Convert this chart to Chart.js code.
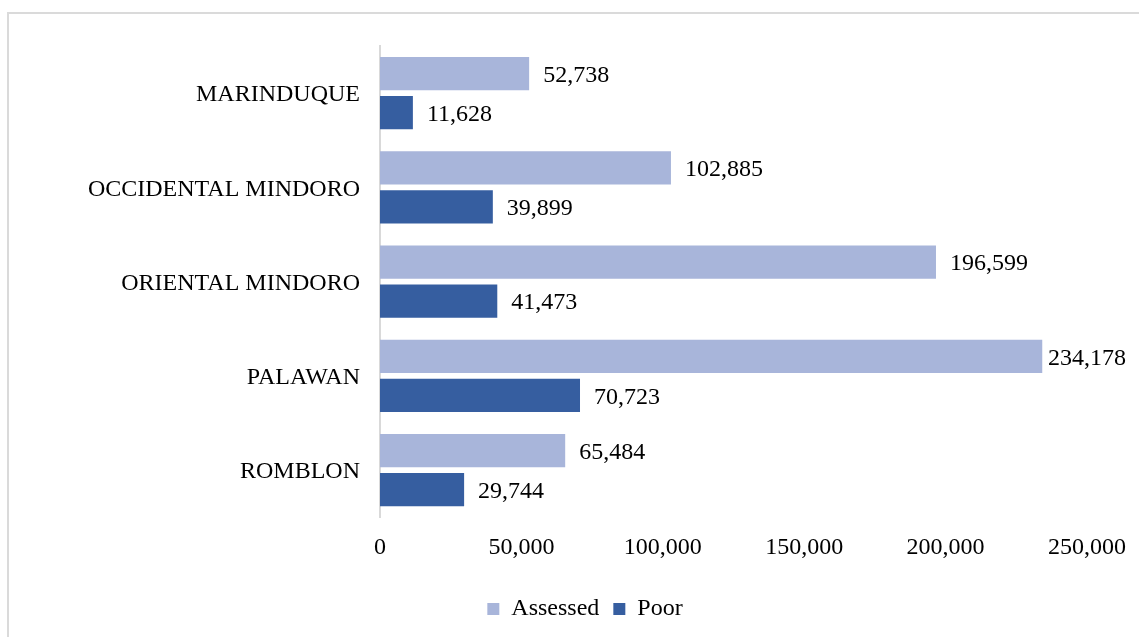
<!DOCTYPE html>
<html>
<head>
<meta charset="utf-8">
<script src="https://cdn.jsdelivr.net/npm/chart.js@4"></script>
<style>
    html, body { margin: 0; padding: 0; background: #fff; overflow: hidden; }
    #frame {
        position: absolute; left: 7px; top: 12px;
        width: 1140px; height: 640px;
        border: 2px solid #dadada;
    }
    #wrap { position: absolute; left: 0; top: 0; width: 1130px; height: 623px; }
</style>
</head>
<body>
<div id="frame">
    <div id="wrap"><canvas id="myChart"></canvas></div>
</div>
<script>
const provinces = ['MARINDUQUE', 'OCCIDENTAL MINDORO', 'ORIENTAL MINDORO', 'PALAWAN', 'ROMBLON'];
const assessed = [52738, 102885, 196599, 234178, 65484];
const poor = [11628, 39899, 41473, 70723, 29744];
const xTicks = [0, 50000, 100000, 150000, 200000, 250000];

const fontFamily = '"Liberation Serif", "Times New Roman", serif';
const fmt = v => v.toLocaleString('en-US');

// labels just past the end of each bar, pulled back in if they run off the right
const valueLabels = {
    id: 'valueLabels',
    afterDatasetsDraw(chart) {
        const ctx = chart.ctx;
        ctx.save();
        ctx.font = '24px ' + fontFamily;
        ctx.fillStyle = '#000';
        ctx.textBaseline = 'middle';
        ctx.textAlign = 'left';
        chart.data.datasets.forEach((ds, i) => {
            chart.getDatasetMeta(i).data.forEach((bar, j) => {
                const txt = fmt(ds.data[j]);
                const w = ctx.measureText(txt).width;
                let x = bar.x + 14;
                if (x + w > chart.width - 13) x = chart.width - 13 - w;
                ctx.fillText(txt, x, bar.y + 2);
            });
        });
        ctx.restore();
    }
};

let ctx = document.getElementById('myChart').getContext('2d');

new Chart(ctx, {
    type: 'bar',
    data: {
        labels: provinces,
        datasets: [{
            label: 'Assessed',
            data: assessed,
            backgroundColor: '#a8b5da',
            borderWidth: 0,
            barPercentage: 0.85,
            categoryPercentage: 0.83
        }, {
            label: 'Poor',
            data: poor,
            backgroundColor: '#365ea0',
            borderWidth: 0,
            barPercentage: 0.85,
            categoryPercentage: 0.83
        }]
    },
    options: {
        indexAxis: 'y',
        responsive: true,
        maintainAspectRatio: false,
        animation: false,
        layout: {
            padding: { top: 32, right: 52, bottom: 6, left: 74 }
        },
        scales: {
            x: {
                min: 0,
                max: 250000,
                afterBuildTicks: axis => {
                    axis.ticks = xTicks.map(v => ({ value: v }));
                },
                afterFit: axis => { axis.height += 13; },
                grid: { display: false },
                border: { display: false },
                ticks: {
                    padding: 8,
                    color: '#000',
                    font: { family: fontFamily, size: 24 },
                    maxRotation: 0,
                    callback: v => fmt(v)
                }
            },
            y: {
                afterFit: axis => { axis.width = 297; },
                grid: { display: false },
                border: { display: true, color: '#d9d9d9', width: 2 },
                ticks: {
                    padding: 12,
                    labelOffset: 2,
                    color: '#000',
                    font: { family: fontFamily, size: 24 }
                }
            }
        },
        plugins: {
            legend: {
                position: 'bottom',
                labels: {
                    boxWidth: 12,
                    boxHeight: 12,
                    padding: 14,
                    color: '#000',
                    font: { family: fontFamily, size: 24 }
                }
            },
            tooltip: { enabled: false }
        }
    },
    plugins: [valueLabels]
});
</script>
</body>
</html>
